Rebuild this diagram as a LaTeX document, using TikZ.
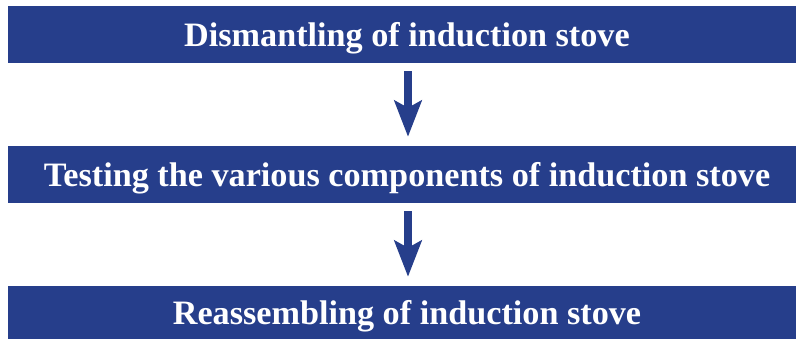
\documentclass[tikz,border=0pt]{standalone}
\usepackage{fontspec}
\setmainfont{Liberation Serif}
\usetikzlibrary{arrows.meta}
\definecolor{stepblue}{RGB}{38,62,139}
\begin{document}
\begin{tikzpicture}[x=1pt,y=-1pt,
  bar/.style={fill=stepblue, minimum width=788pt, inner sep=0pt,
    text=white, font=\bfseries\fontsize{34.2}{37}\selectfont,
    text height=25pt, text depth=0pt},
  flow/.style={draw=stepblue, line width=8pt,
    -{Stealth[length=36pt, width=27pt, inset=7pt]},
    shorten <=8pt, shorten >=9pt}]
  \useasboundingbox (0,0) rectangle (796,339);
  \node[bar, minimum height=57pt] (s1) at (402,34.5)
    {\hspace*{10pt}Dismantling of induction stove};
  \node[bar, minimum height=57pt] (s2) at (402,174.5)
    {\hspace*{10pt}Testing the various components of induction stove};
  \node[bar, minimum height=53pt] (s3) at (402,312.5)
    {\hspace*{10pt}Reassembling of induction stove};
  \draw[flow] ([xshift=6pt]s1.south) -- ([xshift=6pt]s2.north);
  \draw[flow] ([xshift=6pt]s2.south) -- ([xshift=6pt]s3.north);
\end{tikzpicture}
\end{document}
